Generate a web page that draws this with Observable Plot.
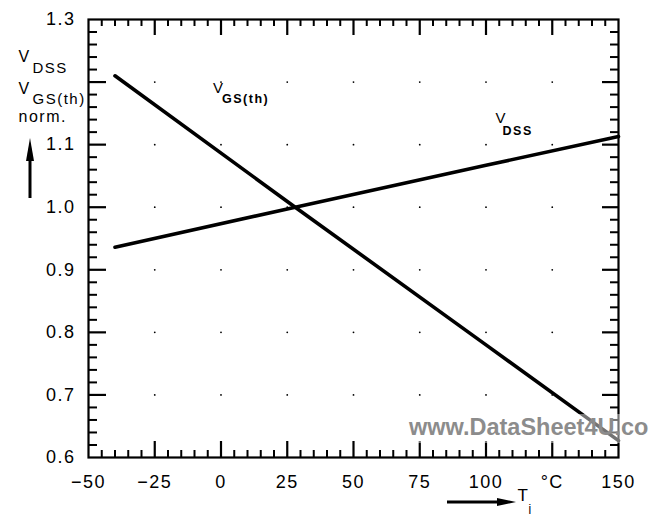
<!DOCTYPE html>
<html><head><meta charset="utf-8">
<script src="https://cdn.jsdelivr.net/npm/d3@7"></script>
<script src="https://cdn.jsdelivr.net/npm/@observablehq/plot@0.6"></script>
<style>
body{margin:0;background:#fff;color:#000;}
#chart{position:relative;width:649px;height:514px;overflow:hidden;background:#fff;}
#chart svg{font-family:"Liberation Sans",Arial,Helvetica,sans-serif;}
#chart svg text{letter-spacing:1.5px;}
.wm{position:absolute;left:406px;top:414px;font:bold 23.5px "Liberation Sans",Arial,sans-serif;line-height:1;color:#8c8c8c;white-space:nowrap;background:rgba(255,255,255,0.45);padding:2px 0 3px 3px;}
</style></head><body><div id="chart"></div>
<script>
// data
const temps = [-40, 28, 100, 150];
const vgsth = [1.21, 1.0, 0.78, 0.627];
const vdss  = [0.936, 1.0, 1.067, 1.113];

const xTicks = [-50, -25, 0, 25, 50, 75, 100, 125, 150];
const xTickLabels = ["−50", "−25", "0", "25", "50", "75", "100", "°C", "150"];
const yTicks = [0.6, 0.7, 0.8, 0.9, 1.0, 1.1, 1.2, 1.3];
const yTickLabels = ["0.6", "0.7", "0.8", "0.9", "1.0", "1.1", "", "1.3"];

const annoX = [-3, 103.6];
const annoY = [1.19, 1.1426];
const annoMain = ["V", "V"];
const annoSub = ["GS(th)", "DSS"];

const W = 649, H = 514, mL = 88, mR = 31, mT = 19, mB = 57;

const xMinor = d3.range(-45, 150, 5).filter(v => v % 25 !== 0);
const yMinor = d3.range(1, 35).filter(i => i % 5 !== 0).map(i => 0.6 + i * 0.02);
const xMajor = xTicks.slice(1, -1);
const yMajor = yTicks.slice(1, -1);

const vgsData = temps.map((t, i) => ({t, v: vgsth[i]}));
const vdssData = temps.map((t, i) => ({t, v: vdss[i]}));
const annos = annoX.map((x, i) => ({x, y: annoY[i], main: annoMain[i], sub: annoSub[i]}));

const svg = Plot.plot({
  width: W, height: H,
  marginLeft: mL, marginRight: mR, marginTop: mT, marginBottom: mB,
  x: {domain: [-50, 150]},
  y: {domain: [0.6, 1.3]},
  marks: [
    Plot.axisX({ticks: xTicks, anchor: "bottom", tickSize: 0, tickPadding: 18, fontSize: 18, label: null,
      tickFormat: d => xTickLabels[xTicks.indexOf(d)]}),
    Plot.axisY({ticks: yTicks, anchor: "left", tickSize: 0, tickPadding: 13, fontSize: 18, label: null,
      tickFormat: d => yTickLabels[yTicks.indexOf(d)]}),
    // inward frame ticks
    Plot.tickX(xMinor, {insetTop: H - mT - mB - 7, strokeWidth: 2, stroke: "#000"}),
    Plot.tickX(xMinor, {insetBottom: H - mT - mB - 7, strokeWidth: 2, stroke: "#000"}),
    Plot.tickX(xMajor, {insetTop: H - mT - mB - 16, strokeWidth: 2.2, stroke: "#000"}),
    Plot.tickX(xMajor, {insetBottom: H - mT - mB - 16, strokeWidth: 2.2, stroke: "#000"}),
    Plot.tickY(yMinor, {insetRight: W - mL - mR - 9, strokeWidth: 2, stroke: "#000"}),
    Plot.tickY(yMinor, {insetLeft: W - mL - mR - 8, strokeWidth: 2, stroke: "#000"}),
    Plot.tickY(yMajor, {insetRight: W - mL - mR - 18, strokeWidth: 2.2, stroke: "#000"}),
    Plot.tickY(yMajor, {insetLeft: W - mL - mR - 16, strokeWidth: 2.2, stroke: "#000"}),
    // grid specks
    Plot.dot(d3.cross(xMajor, yMajor), {x: d => d[0], y: d => d[1], r: 0.9, fill: "#000", stroke: null}),
    Plot.frame({strokeWidth: 2.2, stroke: "#000"}),
    // curves
    Plot.line(vgsData, {x: "t", y: "v", strokeWidth: 3.6, stroke: "#000"}),
    Plot.line(vdssData, {x: "t", y: "v", strokeWidth: 3.6, stroke: "#000"}),
    // in-plot labels
    Plot.text(annos, {x: "x", y: "y", text: "main", textAnchor: "start", fontSize: 15, fill: "#000"}),
    Plot.text(annos.slice(0, 1), {x: "x", y: "y", text: "sub", textAnchor: "start", fontSize: 12.5, fontWeight: 600, dx: 9, dy: 11, fill: "#000"}),
    Plot.text(annos.slice(1, 2), {x: "x", y: "y", text: "sub", textAnchor: "start", fontSize: 12.5, fontWeight: 600, dx: 7, dy: 13, fill: "#000"}),
    // y-axis title
    Plot.text(["V"], {frameAnchor: "top-left", text: d => d, textAnchor: "start", fontSize: 16, dx: -70, dy: 31}),
    Plot.text(["DSS"], {frameAnchor: "top-left", text: d => d, textAnchor: "start", fontSize: 15, dx: -56, dy: 43}),
    Plot.text(["V"], {frameAnchor: "top-left", text: d => d, textAnchor: "start", fontSize: 16, dx: -70, dy: 63}),
    Plot.text(["GS(th)"], {frameAnchor: "top-left", text: d => d, textAnchor: "start", fontSize: 15, dx: -56, dy: 74}),
    Plot.text(["norm."], {frameAnchor: "top-left", text: d => d, textAnchor: "start", fontSize: 16, dx: -70, dy: 91}),
    // x-axis title
    Plot.text(["T"], {frameAnchor: "bottom-left", text: d => d, textAnchor: "start", fontSize: 17, dx: 429, dy: 43}),
    Plot.text(["j"], {frameAnchor: "bottom-left", text: d => d, textAnchor: "start", fontSize: 12, dx: 440, dy: 55})
  ]
});

// axis-title arrows
const g = d3.select(svg).append("g").attr("fill", "#000").attr("stroke", "#000");
const ax = 30;
g.append("line").attr("x1", ax).attr("x2", ax).attr("y1", 198).attr("y2", 156).attr("stroke-width", 3);
g.append("path").attr("stroke", "none").attr("d", `M${ax},138L${ax - 4},161L${ax + 4},161Z`);
const ay = 502;
g.append("line").attr("x1", 447).attr("x2", 500).attr("y1", ay).attr("y2", ay).attr("stroke-width", 3);
g.append("path").attr("stroke", "none").attr("d", `M516,${ay}L497,${ay - 4}L497,${ay + 4}Z`);

const chart = document.getElementById("chart");
chart.appendChild(svg);
const wm = document.createElement("div");
wm.className = "wm";
wm.textContent = "www.DataSheet4U.com";
chart.appendChild(wm);
</script>
</body></html>
